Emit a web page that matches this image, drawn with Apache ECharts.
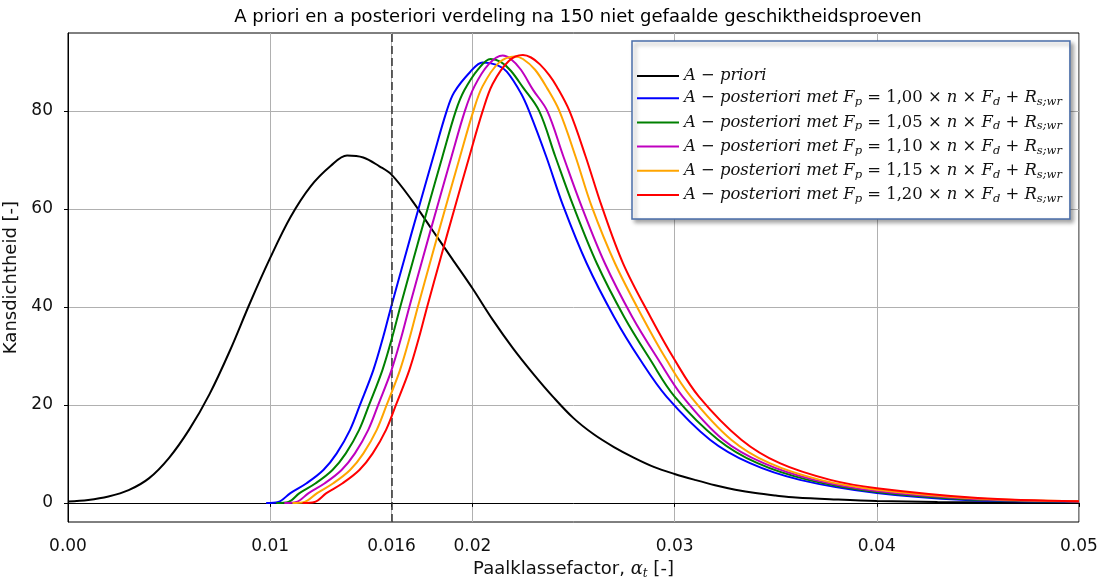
<!DOCTYPE html>
<html>
<head>
<meta charset="utf-8">
<script src="https://cdn.jsdelivr.net/npm/echarts@6/dist/echarts.min.js"></script>
<style>
  html, body { margin: 0; padding: 0; background: #fff; }
  #chart { width: 1113px; height: 579px; }
</style>
</head>
<body>
<div id="chart"></div>
<script>
var priori = [[0,0.3],[0.001,0.6],[0.002,1.3],[0.003,2.6],[0.004,5.0],[0.005,9.2],[0.006,15.0],[0.007,22.2],[0.008,31.0],[0.009,40.8],[0.010,50.0],[0.011,58.3],[0.012,64.6],[0.013,68.8],[0.0138,70.9],[0.0146,70.5],[0.0154,68.7],[0.016,67.0],[0.017,61.8],[0.018,55.8],[0.019,49.8],[0.020,43.8],[0.021,37.4],[0.022,31.6],[0.023,26.4],[0.024,21.6],[0.025,17.3],[0.026,14.0],[0.027,11.4],[0.028,9.2],[0.029,7.3],[0.030,5.9],[0.031,4.7],[0.032,3.6],[0.033,2.7],[0.034,2.0],[0.035,1.5],[0.036,1.1],[0.038,0.7],[0.040,0.4],[0.043,0.2],[0.050,0.1]];
var post100 = [[0.0098,0],[0.0104,0.2],[0.0110,2.0],[0.0118,4.0],[0.01263,6.7],[0.01329,10.1],[0.01395,14.9],[0.01444,20.0],[0.0151,27.1],[0.01559,33.9],[0.01598,40.0],[0.01665,50.0],[0.01733,60.0],[0.01807,70.7],[0.01873,80.0],[0.0191,83.8],[0.0199,88.0],[0.0205,89.9],[0.0212,89.4],[0.0217,88.0],[0.0224,83.6],[0.0228,80.0],[0.02365,70.7],[0.0245,60.5],[0.02565,48.9],[0.0270,38.0],[0.0283,29.2],[0.0296,21.7],[0.03175,12.9],[0.03373,8.1],[0.0362,4.7],[0.0400,2.0],[0.0444,0.6],[0.0500,0.25]];
var post105 = [[0.0103,0],[0.0109,0.2],[0.01145,2.0],[0.01225,4.0],[0.01308,6.7],[0.01374,10.1],[0.0144,14.9],[0.01489,20.0],[0.01555,27.1],[0.01604,33.9],[0.01643,40.0],[0.0171,50.0],[0.01778,60.0],[0.01852,70.7],[0.01918,80.0],[0.0196,84.2],[0.0203,88.6],[0.0209,90.6],[0.0214,90.0],[0.0219,88.2],[0.0225,84.8],[0.0233,80.0],[0.0241,70.7],[0.0250,60.5],[0.02615,48.9],[0.0275,38.0],[0.0288,29.2],[0.0300,21.7],[0.03215,12.9],[0.0341,8.1],[0.0366,4.7],[0.0400,2.2],[0.0446,0.7],[0.0500,0.28]];
var post110 = [[0.0107,0],[0.0113,0.2],[0.0119,2.0],[0.0127,4.0],[0.01353,6.7],[0.01419,10.1],[0.01485,14.9],[0.01534,20.0],[0.0160,27.1],[0.01649,33.9],[0.01688,40.0],[0.01755,50.0],[0.01823,60.0],[0.01897,70.7],[0.01963,80.0],[0.0201,85.0],[0.0208,89.5],[0.0215,91.3],[0.0219,90.6],[0.0224,88.4],[0.0230,84.3],[0.0237,80.0],[0.0245,70.7],[0.0254,60.5],[0.02655,48.9],[0.0279,38.0],[0.0292,29.2],[0.0304,21.7],[0.0324,12.9],[0.0344,8.1],[0.0369,4.7],[0.0400,2.4],[0.0448,0.8],[0.0500,0.30]];
var post115 = [[0.0111,0],[0.0117,0.2],[0.01232,2.0],[0.01312,4.0],[0.01395,6.7],[0.01461,10.1],[0.01527,14.9],[0.01576,20.0],[0.01642,27.1],[0.01691,33.9],[0.0173,40.0],[0.01797,50.0],[0.01865,60.0],[0.01939,70.7],[0.02005,80.0],[0.0205,85.0],[0.0213,89.8],[0.0221,91.1],[0.0225,90.6],[0.0231,88.4],[0.0237,84.6],[0.0243,80.0],[0.0251,70.7],[0.0259,60.5],[0.02705,48.9],[0.0284,38.0],[0.0296,29.2],[0.0308,21.7],[0.0328,12.9],[0.0347,8.1],[0.0372,4.7],[0.0400,2.7],[0.0450,0.9],[0.0500,0.32]];
var post120 = [[0.0116,0],[0.0122,0.2],[0.01278,2.0],[0.01358,4.0],[0.01441,6.7],[0.01507,10.1],[0.01573,14.9],[0.01622,20.0],[0.01688,27.1],[0.01737,33.9],[0.01776,40.0],[0.01843,50.0],[0.01911,60.0],[0.01985,70.7],[0.02051,80.0],[0.0210,85.5],[0.0218,90.2],[0.0225,91.4],[0.0229,90.9],[0.02334,89.5],[0.0238,87.3],[0.02417,85.0],[0.0248,80.0],[0.0256,70.7],[0.0264,60.5],[0.02745,48.9],[0.0288,38.0],[0.0300,29.2],[0.0312,21.7],[0.0333,12.9],[0.0352,8.1],[0.0377,4.7],[0.0400,3.0],[0.0450,1.0],[0.0500,0.35]];

var xTicks = [0, 0.01, 0.016, 0.02, 0.03, 0.04, 0.05];
var yTicks = [0, 20, 40, 60, 80];
var lijnX = 0.016;

var namen = ['A − priori', 'post 1,00', 'post 1,05', 'post 1,10', 'post 1,15', 'post 1,20'];
var factoren = ['', '1,00', '1,05', '1,10', '1,15', '1,20'];
var kleuren = ['#000000', '#0000ff', '#008000', '#bf00bf', '#ffa500', '#ff0000'];
var reeksen = [priori, post100, post105, post110, post115, post120];

var chart = echarts.init(document.getElementById('chart'));

var series = reeksen.map(function (d, k) {
  var s = {
    name: namen[k],
    type: 'line',
    data: d,
    symbol: 'none',
    smooth: 0.35,
    lineStyle: { color: kleuren[k], width: 2 },
    itemStyle: { color: kleuren[k] },
    z: 3 + k
  };
  if (k === 0) {
    s.markLine = {
      silent: true,
      precision: 3,
      symbol: ['none', 'none'],
      label: { show: false },
      lineStyle: { color: '#333', type: [8, 4], width: 1.5 },
      data: [{ xAxis: lijnX }]
    };
  }
  return s;
});

var serif = 'DejaVu Serif';
var sans = 'DejaVu Sans';
var option = {
  backgroundColor: '#fff',
  animation: false,
  title: {
    text: 'A priori en a posteriori verdeling na 150 niet gefaalde geschiktheidsproeven',
    left: 573, top: 3, textAlign: 'center',
    textStyle: { fontFamily: sans, fontSize: 18, fontWeight: 'normal', color: '#000' }
  },
  grid: {
    left: 68, right: 34, top: 33, bottom: 57,
    outerBoundsMode: 'none',
    show: true, borderColor: '#000', borderWidth: 1, backgroundColor: 'transparent'
  },
  legend: {
    orient: 'vertical',
    left: 632, top: 41,
    padding: [27, 8, 14, 5],
    icon: 'rect',
    itemWidth: 42, itemHeight: 2, itemGap: 5.2,
    backgroundColor: '#fff',
    borderColor: '#4a6ea9', borderWidth: 1.5, borderRadius: 0,
    shadowBlur: 4, shadowOffsetX: 3, shadowOffsetY: 3, shadowColor: 'rgba(0,0,0,0.35)',
    data: namen,
    formatter: function (name) {
      var k = namen.indexOf(name);
      if (k === 0) return '{i|A}{n| − }{i|priori}';
      return '{i|A}{n| − }{i|posteriori met F}{s|p}{n| = ' + factoren[k] + ' × }{i|n}{n| × }{i|F}{s|d}{n| + }{i|R}{s|s;wr}';
    },
    textStyle: {
      rich: {
        i: { fontFamily: serif, fontStyle: 'italic', fontSize: 16.4, color: '#111', lineHeight: 20 },
        n: { fontFamily: serif, fontSize: 16.4, color: '#111', lineHeight: 20 },
        s: { fontFamily: serif, fontStyle: 'italic', fontSize: 11.5, color: '#111', lineHeight: 20, verticalAlign: 'bottom', padding: [7, 0, 0, 0] }
      }
    }
  },
  xAxis: {
    type: 'value', min: 0, max: 0.05, interval: 0.01,
    name: '{n|Paalklassefactor, }{g|α}{t|t}{n| [-]}',
    nameLocation: 'middle', nameGap: 36,
    nameTextStyle: {
      rich: {
        n: { fontFamily: sans, fontSize: 18, color: '#111' },
        g: { fontFamily: serif, fontStyle: 'italic', fontSize: 18, color: '#111' },
        t: { fontFamily: serif, fontStyle: 'italic', fontSize: 12, color: '#111', verticalAlign: 'bottom', padding: [9, 0, 0, 0] }
      }
    },
    axisLine: { lineStyle: { color: '#000', width: 1 } },
    axisTick: { show: true, length: 4, customValues: xTicks, lineStyle: { color: '#000' } },
    axisLabel: {
      customValues: xTicks, margin: 16,
      fontFamily: sans, fontSize: 17, color: '#111',
      formatter: function (v) { return v === 0 ? '0.00' : String(+v.toFixed(3)); }
    },
    splitLine: { show: true, lineStyle: { color: '#b0b0b0', width: 1 } }
  },
  yAxis: {
    type: 'value', min: -3.9, max: 95.9,
    name: 'Kansdichtheid [-]',
    nameLocation: 'middle', nameGap: 42,
    nameTextStyle: { fontFamily: sans, fontSize: 18, color: '#111' },
    axisLine: { show: true, lineStyle: { color: '#000', width: 1 } },
    axisTick: { show: true, length: 4, customValues: yTicks, lineStyle: { color: '#000' } },
    axisLabel: { customValues: yTicks, margin: 15, fontFamily: sans, fontSize: 17, color: '#111' },
    splitLine: { show: true, lineStyle: { color: '#b0b0b0', width: 1 } }
  },
  series: series
};

chart.setOption(option);
</script>
</body>
</html>
